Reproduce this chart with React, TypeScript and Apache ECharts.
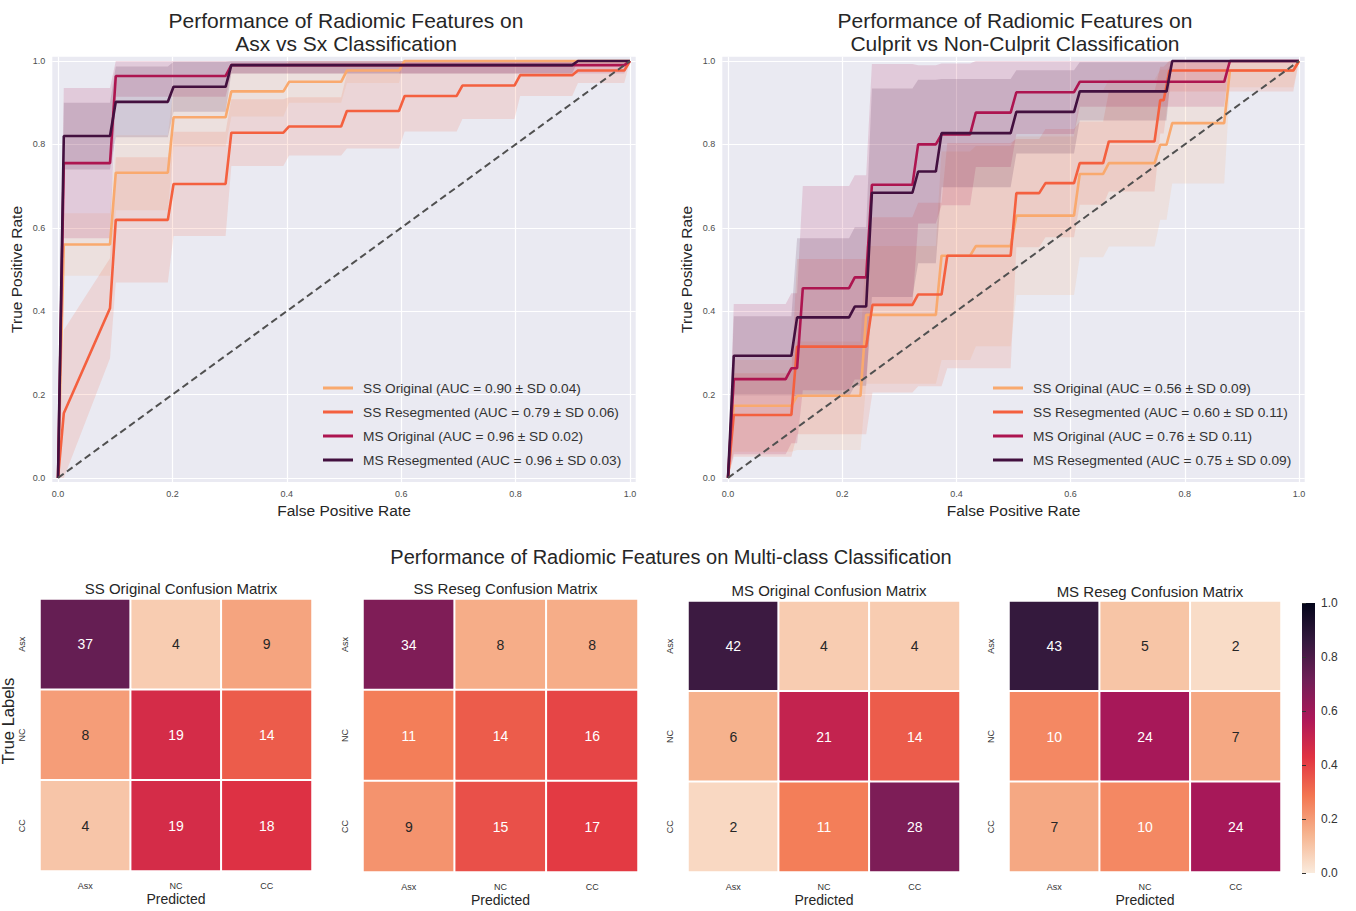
import React, { useEffect, useRef } from 'react';
import * as echarts from 'echarts';

const FONT = '"Liberation Sans", Arial, Helvetica, sans-serif';

// ---------- shared ----------
const ROC_TICKS = [0, 0.2, 0.4, 0.6, 0.8, 1.0];
const CURVE_NAMES = ['SS Original', 'SS Resegmented', 'MS Original', 'MS Resegmented'];
const CURVE_COLORS = ['#F9A96E', '#F4603F', '#AD1550', '#43103F'];
const CLASSES = ['Asx', 'NC', 'CC'];
const ROCKET_R = ['#faebdd', '#f6b48f', '#f37651', '#e13342', '#ad1759', '#701f57', '#35193e', '#03051a'];

// ---------- Asx vs Sx ROC ----------
const ASX_AUC = [0.9, 0.79, 0.96, 0.96];
const ASX_AUC_SD = [0.04, 0.06, 0.02, 0.03];

const ASX_SS_ORIG: number[][] = [[0, 0], [0.0101, 0.56], [0.0909, 0.56], [0.101, 0.732], [0.192, 0.732], [0.202, 0.865], [0.293, 0.865], [0.303, 0.927], [0.394, 0.927], [0.404, 0.95], [0.495, 0.95], [0.505, 0.977], [0.596, 0.977], [0.606, 1.0], [1, 1]];
const ASX_SS_ORIG_SD = [0, 0.075, 0.075, 0.09, 0.09, 0.07, 0.07, 0.06, 0.06, 0.05, 0.05, 0.03, 0.03, 0, 0];

const ASX_SS_RESEG: number[][] = [[0, 0], [0.0101, 0.155], [0.0909, 0.407], [0.101, 0.619], [0.192, 0.619], [0.202, 0.705], [0.293, 0.705], [0.303, 0.828], [0.394, 0.828], [0.404, 0.843], [0.495, 0.843], [0.505, 0.88], [0.596, 0.88], [0.606, 0.916], [0.697, 0.916], [0.707, 0.941], [0.798, 0.941], [0.808, 0.966], [0.899, 0.966], [0.909, 0.977], [0.99, 0.977], [1, 1]];
const ASX_SS_RESEG_SD = [0, 0.2, 0.12, 0.15, 0.15, 0.125, 0.125, 0.08, 0.08, 0.07, 0.07, 0.09, 0.09, 0.085, 0.085, 0.08, 0.08, 0.05, 0.05, 0.03, 0.03, 0];

const ASX_MS_ORIG: number[][] = [[0, 0], [0.0101, 0.755], [0.0909, 0.755], [0.101, 0.964], [0.293, 0.964], [0.303, 0.99], [0.99, 0.99], [1, 1]];
const ASX_MS_ORIG_SD = [0, 0.18, 0.18, 0.05, 0.05, 0.02, 0.02, 0];

const ASX_MS_RESEG: number[][] = [[0, 0], [0.0101, 0.82], [0.0909, 0.82], [0.101, 0.902], [0.192, 0.902], [0.202, 0.938], [0.293, 0.938], [0.303, 0.99], [0.899, 0.99], [0.909, 1], [1, 1]];
const ASX_MS_RESEG_SD = [0, 0.08, 0.08, 0.085, 0.085, 0.06, 0.06, 0.02, 0.02, 0, 0];

// ---------- Culprit vs Non-Culprit ROC ----------
const CUL_AUC = [0.56, 0.6, 0.76, 0.75];
const CUL_AUC_SD = [0.09, 0.11, 0.11, 0.09];

const CUL_SS_ORIG: number[][] = [[0, 0], [0.0101, 0.173], [0.111, 0.173], [0.121, 0.197], [0.232, 0.197], [0.242, 0.391], [0.364, 0.391], [0.374, 0.533], [0.424, 0.533], [0.434, 0.556], [0.495, 0.556], [0.505, 0.629], [0.606, 0.629], [0.616, 0.729], [0.657, 0.729], [0.667, 0.755], [0.747, 0.755], [0.757, 0.799], [0.768, 0.799], [0.778, 0.851], [0.869, 0.851], [0.879, 0.977], [0.99, 0.977], [1, 1]];
const CUL_SS_ORIG_SD = [0, 0.11, 0.11, 0.13, 0.13, 0.165, 0.165, 0.25, 0.25, 0.24, 0.24, 0.19, 0.19, 0.2, 0.2, 0.2, 0.2, 0.18, 0.18, 0.145, 0.145, 0.04, 0.04, 0];

const CUL_SS_RESEG: number[][] = [[0, 0], [0.0101, 0.151], [0.111, 0.151], [0.121, 0.315], [0.242, 0.315], [0.253, 0.415], [0.323, 0.415], [0.333, 0.44], [0.374, 0.44], [0.384, 0.533], [0.495, 0.533], [0.505, 0.683], [0.545, 0.683], [0.556, 0.707], [0.606, 0.707], [0.616, 0.755], [0.657, 0.755], [0.667, 0.807], [0.747, 0.807], [0.757, 0.906], [0.763, 0.906], [0.773, 0.977], [0.99, 0.977], [1, 1]];
const CUL_SS_RESEG_SD = [0, 0.1, 0.1, 0.21, 0.21, 0.21, 0.21, 0.22, 0.22, 0.27, 0.27, 0.13, 0.13, 0.13, 0.13, 0.1, 0.1, 0.12, 0.12, 0.08, 0.08, 0.05, 0.05, 0];

const CUL_MS_ORIG: number[][] = [[0, 0], [0.0101, 0.237], [0.101, 0.237], [0.111, 0.263], [0.121, 0.263], [0.131, 0.455], [0.212, 0.455], [0.222, 0.481], [0.242, 0.481], [0.252, 0.703], [0.323, 0.703], [0.333, 0.8], [0.364, 0.8], [0.374, 0.824], [0.424, 0.824], [0.434, 0.876], [0.495, 0.876], [0.505, 0.925], [0.606, 0.925], [0.616, 0.95], [0.869, 0.95], [0.879, 1.0], [1, 1]];
const CUL_MS_ORIG_SD = [0, 0.18, 0.18, 0.18, 0.18, 0.245, 0.245, 0.245, 0.245, 0.29, 0.29, 0.19, 0.19, 0.17, 0.17, 0.13, 0.13, 0.1, 0.1, 0.06, 0.06, 0, 0];

const CUL_MS_RESEG: number[][] = [[0, 0], [0.0101, 0.293], [0.111, 0.293], [0.121, 0.385], [0.212, 0.385], [0.222, 0.411], [0.242, 0.411], [0.252, 0.684], [0.323, 0.684], [0.333, 0.735], [0.364, 0.735], [0.374, 0.827], [0.495, 0.827], [0.505, 0.878], [0.606, 0.878], [0.616, 0.927], [0.768, 0.927], [0.778, 1.0], [1, 1]];
const CUL_MS_RESEG_SD = [0, 0.095, 0.095, 0.19, 0.19, 0.19, 0.19, 0.25, 0.25, 0.22, 0.22, 0.13, 0.13, 0.1, 0.1, 0.07, 0.07, 0, 0];

// ---------- confusion matrices (rows: true, cols: predicted) ----------
const CM_SS_ORIG = [[37, 4, 9], [8, 19, 14], [4, 19, 18]];
const CM_SS_RESEG = [[34, 8, 8], [11, 14, 16], [9, 15, 17]];
const CM_MS_ORIG = [[42, 4, 4], [6, 21, 14], [2, 11, 28]];
const CM_MS_RESEG = [[43, 5, 2], [10, 24, 7], [7, 10, 24]];
const CM_TITLES = ['SS Original Confusion Matrix', 'SS Reseg Confusion Matrix', 'MS Original Confusion Matrix', 'MS Reseg Confusion Matrix'];

function hexToRgba(hex: string, a: number) {
  const n = parseInt(hex.slice(1), 16);
  return `rgba(${(n >> 16) & 255},${(n >> 8) & 255},${n & 255},${a})`;
}

function buildOption() {
  const series: any[] = [];
  const rocSets = [
    { gi: 0, curves: [ASX_SS_ORIG, ASX_SS_RESEG, ASX_MS_ORIG, ASX_MS_RESEG], sds: [ASX_SS_ORIG_SD, ASX_SS_RESEG_SD, ASX_MS_ORIG_SD, ASX_MS_RESEG_SD], auc: ASX_AUC, aucSd: ASX_AUC_SD },
    { gi: 1, curves: [CUL_SS_ORIG, CUL_SS_RESEG, CUL_MS_ORIG, CUL_MS_RESEG], sds: [CUL_SS_ORIG_SD, CUL_SS_RESEG_SD, CUL_MS_ORIG_SD, CUL_MS_RESEG_SD], auc: CUL_AUC, aucSd: CUL_AUC_SD },
  ];
  const legendNames: string[][] = [];

  rocSets.forEach((set) => {
    const names = CURVE_NAMES.map((n, i) => `${n} (AUC = ${set.auc[i].toFixed(2)} \u00b1 SD ${set.aucSd[i].toFixed(2)})`);
    legendNames.push(names);
    set.curves.forEach((pts, i) => {
      const sd = set.sds[i];
      series.push({
        type: 'custom',
        xAxisIndex: set.gi,
        yAxisIndex: set.gi,
        silent: true,
        data: [[0, 0]],
        z: 1,
        renderItem: (_p: any, api: any) => {
          const upper = pts.map((p, k) => api.coord([p[0], Math.min(1, p[1] + (sd[k] ?? 0))]));
          const lower = pts.map((p, k) => api.coord([p[0], Math.max(0, p[1] - (sd[k] ?? 0))])).reverse();
          return {
            type: 'polygon',
            shape: { points: upper.concat(lower) },
            style: { fill: hexToRgba(CURVE_COLORS[i], 0.15), stroke: 'none' },
          };
        },
      });
    });
    set.curves.forEach((pts, i) => {
      series.push({
        type: 'line',
        name: names[i],
        xAxisIndex: set.gi,
        yAxisIndex: set.gi,
        data: pts,
        showSymbol: false,
        symbol: 'none',
        z: 3,
        color: CURVE_COLORS[i],
        lineStyle: { color: CURVE_COLORS[i], width: 2.6 },
        emphasis: { disabled: true },
      });
    });
    series.push({
      type: 'line',
      xAxisIndex: set.gi,
      yAxisIndex: set.gi,
      data: [[0, 0], [1, 1]],
      showSymbol: false,
      symbol: 'none',
      z: 4,
      lineStyle: { color: '#505050', width: 2, type: [7, 4] },
      emphasis: { disabled: true },
    });
  });

  const heatIdx: number[] = [];
  [CM_SS_ORIG, CM_SS_RESEG, CM_MS_ORIG, CM_MS_RESEG].forEach((m, h) => {
    const data: any[] = [];
    m.forEach((row, yi) => {
      const sum = row.reduce((a, b) => a + b, 0);
      row.forEach((c, xi) => {
        const norm = c / sum;
        data.push({ value: [xi, yi, norm, c], label: { color: norm < 0.23 ? '#262626' : '#ffffff' } });
      });
    });
    heatIdx.push(series.length);
    series.push({
      type: 'heatmap',
      xAxisIndex: 2 + h,
      yAxisIndex: 2 + h,
      data,
      label: {
        show: true,
        fontSize: 14,
        fontFamily: FONT,
        formatter: (p: any) => String(p.value[3]),
      },
      itemStyle: { borderColor: '#ffffff', borderWidth: 2 },
      emphasis: { disabled: true },
    });
  });
  series.push({ type: 'line', xAxisIndex: 6, yAxisIndex: 6, data: [] });

  const rocGrids = [
    { left: 52.3, top: 56.8, width: 583.4, height: 425.3 },
    { left: 722.3, top: 56.8, width: 582.4, height: 425.3 },
  ];
  const hmGrids = [
    { left: 40, top: 599, width: 272, height: 272 },
    { left: 363, top: 599, width: 275, height: 273 },
    { left: 688, top: 601, width: 272, height: 271 },
    { left: 1009, top: 601, width: 272, height: 271 },
  ];
  const cbGrid = { left: 1302, top: 603, width: 13, height: 270 };

  const grid: any[] = [
    ...rocGrids.map((g) => ({ ...g, show: true, backgroundColor: '#EAEAF2', borderWidth: 0, outerBoundsMode: 'none', containLabel: false })),
    ...hmGrids.map((g) => ({ ...g, show: false, outerBoundsMode: 'none', containLabel: false })),
    {
      ...cbGrid,
      show: true,
      borderWidth: 0,
      outerBoundsMode: 'none',
      containLabel: false,
      backgroundColor: new echarts.graphic.LinearGradient(0, 0, 0, 1, ROCKET_R.slice().reverse().map((c, i) => ({ offset: i / 7, color: c }))),
    },
  ];

  const tickLabel = { fontSize: 9, color: '#4d4d4d', fontFamily: FONT };
  const nameStyle = { fontSize: 15.5, color: '#262626', fontFamily: FONT };

  const xAxis: any[] = [];
  const yAxis: any[] = [];
  [0, 1].forEach((gi) => {
    xAxis.push({
      type: 'value', gridIndex: gi, min: -0.01, max: 1.01,
      axisLine: { show: false },
      axisTick: { show: false, customValues: ROC_TICKS },
      axisLabel: { ...tickLabel, customValues: ROC_TICKS, formatter: (v: number) => v.toFixed(1), margin: 7 },
      splitLine: { show: true, lineStyle: { color: '#ffffff', width: 1.2 } },
      name: 'False Positive Rate', nameLocation: 'middle', nameGap: 20, nameTextStyle: nameStyle,
    });
    yAxis.push({
      type: 'value', gridIndex: gi, min: -0.01, max: 1.01,
      axisLine: { show: false },
      axisTick: { show: false, customValues: ROC_TICKS },
      axisLabel: { ...tickLabel, customValues: ROC_TICKS, formatter: (v: number) => v.toFixed(1), margin: 7 },
      splitLine: { show: true, lineStyle: { color: '#ffffff', width: 1.2 } },
      name: 'True Positive Rate', nameLocation: 'middle', nameGap: 28, nameTextStyle: nameStyle,
    });
  });
  [0, 1, 2, 3].forEach((h) => {
    xAxis.push({
      type: 'category', gridIndex: 2 + h, data: CLASSES,
      axisLine: { show: false }, axisTick: { show: false }, splitLine: { show: false },
      axisLabel: { fontSize: 9, color: '#333333', fontFamily: FONT, margin: 10 },
      name: 'Predicted', nameLocation: 'middle', nameGap: 21,
      nameTextStyle: { fontSize: 14, color: '#262626', fontFamily: FONT },
    });
    yAxis.push({
      type: 'category', gridIndex: 2 + h, data: CLASSES, inverse: true,
      axisLine: { show: false }, axisTick: { show: false }, splitLine: { show: false },
      axisLabel: { fontSize: 9, color: '#333333', fontFamily: FONT, margin: 14, rotate: 90 },
      name: h === 0 ? 'True Labels' : '', nameLocation: 'middle', nameGap: 15,
      nameTextStyle: { fontSize: 16.5, color: '#262626', fontFamily: FONT, padding: [0, 0, 0, 28] },
    });
  });
  xAxis.push({ type: 'value', gridIndex: 6, min: 0, max: 1, show: false });
  yAxis.push({
    type: 'value', gridIndex: 6, min: 0, max: 1, interval: 0.2, position: 'right',
    axisLine: { show: false },
    axisTick: { show: true, length: 4, lineStyle: { color: '#333333' } },
    axisLabel: { fontSize: 12, color: '#333333', fontFamily: FONT, margin: 6, formatter: (v: number) => v.toFixed(1) },
    splitLine: { show: false },
  });

  const titleStyle = (size: number, lh: number) => ({ fontSize: size, fontWeight: 'normal', color: '#262626', fontFamily: FONT, lineHeight: lh });
  const hmTitleCenterY = [588, 588, 590, 591];
  const title: any[] = [
    { text: 'Performance of Radiomic Features on\nAsx vs Sx Classification', left: 341, top: 3.5, textAlign: 'center', textStyle: titleStyle(21, 23) },
    { text: 'Performance of Radiomic Features on\nCulprit vs Non-Culprit Classification', left: 1010, top: 3.5, textAlign: 'center', textStyle: titleStyle(21, 23) },
    { text: 'Performance of Radiomic Features on Multi-class Classification', left: 666, top: 540, textAlign: 'center', textStyle: titleStyle(20, 24) },
    ...CM_TITLES.map((t, h) => ({
      text: t, left: hmGrids[h].left + hmGrids[h].width / 2, top: hmTitleCenterY[h] - 9.5 - 5, textAlign: 'center', textStyle: titleStyle(15, 19),
    })),
  ];

  const legend = legendNames.map((names, k) => ({
    data: names,
    left: k === 0 ? 318 : 988,
    top: 376,
    orient: 'vertical',
    icon: 'rect',
    itemWidth: 30,
    itemHeight: 3,
    itemGap: 10,
    selectedMode: false,
    textStyle: { fontSize: 13.7, color: '#333333', fontFamily: FONT, padding: [0, 0, 0, 5] },
  }));

  return {
    animation: false,
    backgroundColor: '#ffffff',
    textStyle: { fontFamily: FONT },
    title,
    legend,
    grid,
    xAxis,
    yAxis,
    visualMap: {
      type: 'continuous', show: false, min: 0, max: 1, dimension: 2,
      seriesIndex: heatIdx,
      inRange: { color: ROCKET_R },
    },
    series,
  };
}

export default function App() {
  const ref = useRef<HTMLDivElement>(null);
  useEffect(() => {
    if (!ref.current) return;
    const chart = echarts.init(ref.current, null, { renderer: 'svg' });
    chart.setOption(buildOption() as any);
    return () => chart.dispose();
  }, []);
  return (
    <div
      ref={ref}
      style={{ position: 'fixed', left: 0, top: 0, width: 1356, height: 911, background: '#ffffff' }}
    />
  );
}
